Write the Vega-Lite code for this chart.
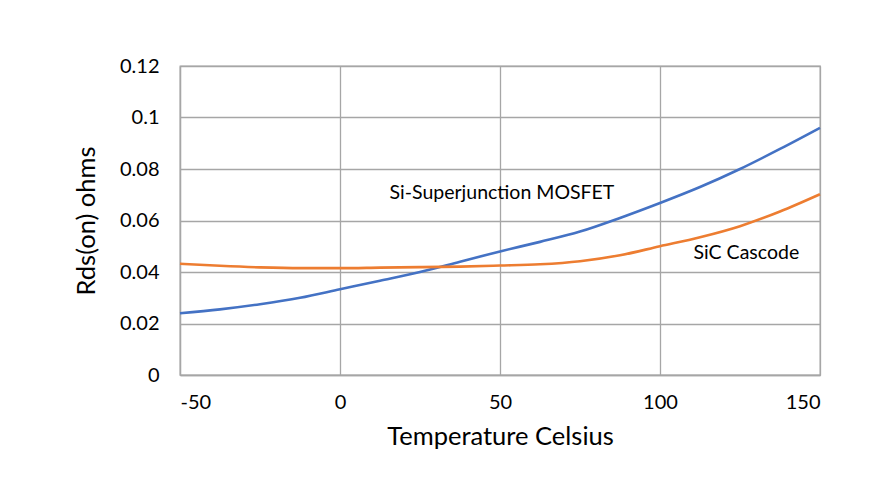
{
  "$schema": "https://vega.github.io/schema/vega-lite/v6.json",
  "width": 640,
  "height": 309,
  "autosize": {"type": "none"},
  "padding": {"left": 180, "top": 66, "right": 53, "bottom": 107},
  "background": "white",
  "config": {
    "font": "Lato",
    "view": {"stroke": "#a6a6a6", "strokeWidth": 1.3},
    "axis": {
      "gridColor": "#a6a6a6",
      "gridWidth": 1.3,
      "gridOpacity": 1,
      "domainColor": "#a6a6a6",
      "domainWidth": 1.3,
      "ticks": false,
      "labelFont": "Lato",
      "labelFontSize": 20,
      "labelColor": "#000000",
      "titleFont": "Lato",
      "titleFontSize": 25.5,
      "titleFontWeight": "normal",
      "titleColor": "#000000"
    }
  },
  "datasets": {
    "curves": [
      {"temp": -50, "rds": 0.0240, "series": "Si-Superjunction MOSFET"},
      {"temp": -37.5, "rds": 0.0255, "series": "Si-Superjunction MOSFET"},
      {"temp": -25, "rds": 0.0275, "series": "Si-Superjunction MOSFET"},
      {"temp": -12.5, "rds": 0.0300, "series": "Si-Superjunction MOSFET"},
      {"temp": 0, "rds": 0.0333, "series": "Si-Superjunction MOSFET"},
      {"temp": 12.5, "rds": 0.0366, "series": "Si-Superjunction MOSFET"},
      {"temp": 25, "rds": 0.0400, "series": "Si-Superjunction MOSFET"},
      {"temp": 37.5, "rds": 0.0440, "series": "Si-Superjunction MOSFET"},
      {"temp": 50, "rds": 0.0480, "series": "Si-Superjunction MOSFET"},
      {"temp": 62.5, "rds": 0.0517, "series": "Si-Superjunction MOSFET"},
      {"temp": 75, "rds": 0.0557, "series": "Si-Superjunction MOSFET"},
      {"temp": 87.5, "rds": 0.0610, "series": "Si-Superjunction MOSFET"},
      {"temp": 100, "rds": 0.0668, "series": "Si-Superjunction MOSFET"},
      {"temp": 112.5, "rds": 0.0730, "series": "Si-Superjunction MOSFET"},
      {"temp": 125, "rds": 0.0800, "series": "Si-Superjunction MOSFET"},
      {"temp": 137.5, "rds": 0.0878, "series": "Si-Superjunction MOSFET"},
      {"temp": 150, "rds": 0.0960, "series": "Si-Superjunction MOSFET"},
      {"temp": -50, "rds": 0.0432, "series": "SiC Cascode"},
      {"temp": -37.5, "rds": 0.0424, "series": "SiC Cascode"},
      {"temp": -25, "rds": 0.0418, "series": "SiC Cascode"},
      {"temp": -12.5, "rds": 0.0415, "series": "SiC Cascode"},
      {"temp": 0, "rds": 0.0415, "series": "SiC Cascode"},
      {"temp": 12.5, "rds": 0.0417, "series": "SiC Cascode"},
      {"temp": 25, "rds": 0.0419, "series": "SiC Cascode"},
      {"temp": 37.5, "rds": 0.0421, "series": "SiC Cascode"},
      {"temp": 50, "rds": 0.0425, "series": "SiC Cascode"},
      {"temp": 62.5, "rds": 0.0430, "series": "SiC Cascode"},
      {"temp": 75, "rds": 0.0442, "series": "SiC Cascode"},
      {"temp": 87.5, "rds": 0.0465, "series": "SiC Cascode"},
      {"temp": 100, "rds": 0.0500, "series": "SiC Cascode"},
      {"temp": 112.5, "rds": 0.0535, "series": "SiC Cascode"},
      {"temp": 125, "rds": 0.0578, "series": "SiC Cascode"},
      {"temp": 137.5, "rds": 0.0635, "series": "SiC Cascode"},
      {"temp": 150, "rds": 0.0702, "series": "SiC Cascode"}
    ],
    "labels": [
      {"temp": 15.5, "rds": 0.0705, "text": "Si-Superjunction MOSFET"},
      {"temp": 110.5, "rds": 0.0472, "text": "SiC Cascode"}
    ]
  },
  "layer": [
    {
      "data": {"name": "curves"},
      "mark": {"type": "line", "strokeWidth": 2.6, "interpolate": "monotone"},
      "encoding": {
        "x": {
          "field": "temp", "type": "quantitative",
          "scale": {"domain": [-50, 150], "nice": false, "zero": false},
          "axis": {"values": [-50, 0, 50, 100, 150], "labelExpr": "'' + datum.value", "title": "Temperature Celsius", "labelPadding": 17, "titlePadding": 12}
        },
        "y": {
          "field": "rds", "type": "quantitative",
          "scale": {"domain": [0, 0.12], "nice": false},
          "axis": {"values": [0, 0.02, 0.04, 0.06, 0.08, 0.1, 0.12], "labelExpr": "'' + datum.value", "title": "Rds(on) ohms", "labelPadding": 21, "titlePadding": 20}
        },
        "color": {
          "field": "series", "type": "nominal",
          "scale": {"domain": ["Si-Superjunction MOSFET", "SiC Cascode"], "range": ["#4472C4", "#ED7D31"]},
          "legend": null
        }
      }
    },
    {
      "data": {"name": "labels"},
      "mark": {"type": "text", "align": "left", "baseline": "middle", "fontSize": 19.5, "font": "Lato", "color": "#000000"},
      "encoding": {
        "x": {"field": "temp", "type": "quantitative"},
        "y": {"field": "rds", "type": "quantitative"},
        "text": {"field": "text"}
      }
    }
  ]
}
